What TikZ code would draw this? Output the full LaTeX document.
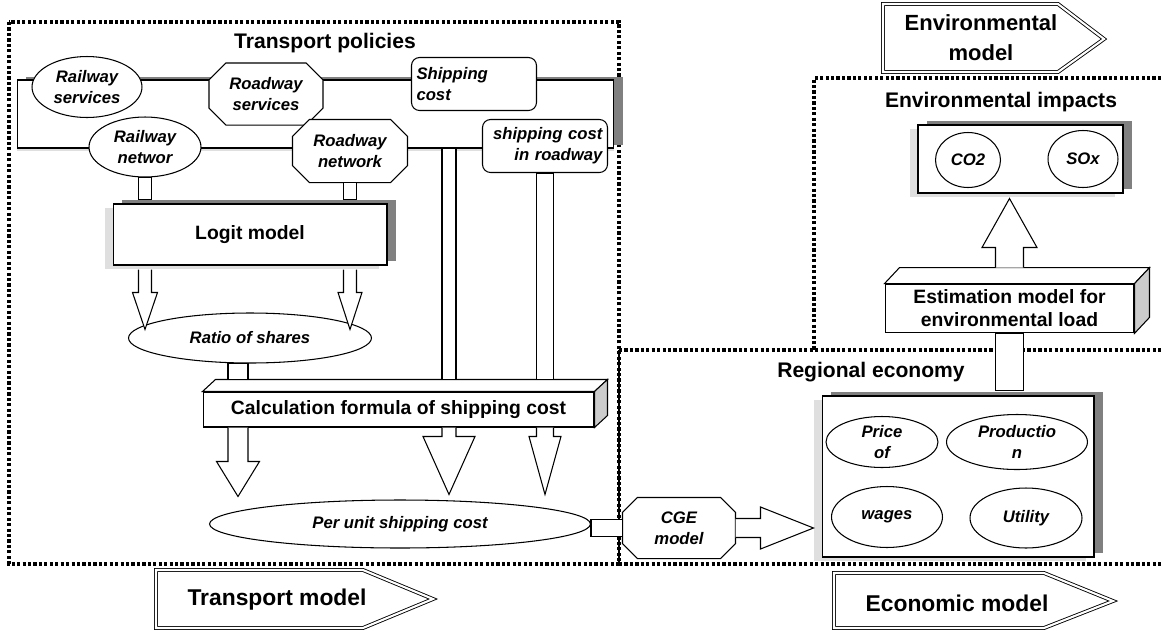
\documentclass[tikz,border=0pt]{standalone}
\usepackage{fontspec}
\setmainfont{Liberation Sans}
\usetikzlibrary{shapes.geometric,shadows,calc}

\tikzset{
  dotline/.style={line width=1.8pt, dash pattern=on 1.8pt off 1.3pt},
  lbl/.style={font=\fontsize{9.5}{12}\selectfont\bfseries\itshape, align=center, inner sep=0pt},
  oval/.style={lbl, ellipse, draw, fill=white},
  note/.style={lbl, rectangle, rounded corners=0.16cm, draw, fill=white, minimum height=1.06cm, inner xsep=0.1cm, text width=2.3cm},
  box/.style={rectangle, draw, fill=white, font=\fontsize{11}{13}\selectfont\bfseries, align=center},
  title/.style={font=\fontsize{12}{14}\selectfont\bfseries},
  shadowed/.style={general shadow={fill=gray!25, shadow xshift=-0.16cm, shadow yshift=-0.08cm},
                   general shadow={fill=gray, shadow xshift=0.18cm, shadow yshift=0.08cm}},
  polshadow/.style={general shadow={fill=gray!25, shadow xshift=0cm, shadow yshift=-0.06cm},
                    general shadow={fill=gray, shadow xshift=0.18cm, shadow yshift=0.06cm}},
  modelarrow/.style={double, double distance=1.2pt, line width=0.5pt},
  modeltext/.style={font=\fontsize{13}{17}\selectfont\bfseries, align=center}
}

% hollow block arrow: tail, tip, shaft half width, head half width, head length
\newcommand{\fatarrow}[5]{%
  \coordinate (fah) at ($(#2)!#5!(#1)$);
  \draw[fill=white] ($(#1)!#3!90:(#2)$) -- ($(fah)!#3!90:(#2)$) -- ($(fah)!#4!90:(#2)$) -- (#2)
    -- ($(fah)!#4!-90:(#2)$) -- ($(fah)!#3!-90:(#2)$) -- ($(#1)!#3!-90:(#2)$);}
% closed shaft without head
\newcommand{\fatshaft}[3]{%
  \draw[fill=white] ($(#1)!#3!90:(#2)$) -- ($(#2)!#3!-90:(#1)$) -- ($(#2)!#3!90:(#1)$) -- ($(#1)!#3!-90:(#2)$) -- cycle;}
% top and side faces of a box node
\newcommand{\boxdepth}[3]{%
  \draw[fill=white] (#1.north west) -- ++(#2,#3) -- ($(#1.north east)+(#2,#3)$) -- (#1.north east) -- cycle;
  \draw[fill=gray!40] (#1.north east) -- ++(#2,#3) -- ($(#1.south east)+(#2,#3)$) -- (#1.south east) -- cycle;}
% octagon: name, position, width, height, corner cut, text
\newcommand{\octnode}[6]{%
  \node[minimum width=#3, minimum height=#4, inner sep=0pt](#1) at #2 {};
  \draw[fill=white] ($(#1.north west)+(#5,0)$) -- ($(#1.north east)+(-#5,0)$) -- ($(#1.north east)+(0,#5)$)
    -- ($(#1.south east)+(0,-#5)$) -- ($(#1.south east)+(-#5,0)$) -- ($(#1.south west)+(#5,0)$)
    -- ($(#1.south west)+(0,-#5)$) -- ($(#1.north west)+(0,#5)$) -- cycle;
  \node[lbl] at (#1) {#6};}

\begin{document}
\begin{tikzpicture}[x=0.02cm, y=-0.02cm, line width=0.6pt]
  \useasboundingbox (0,0) rectangle (1161,630);

  % frames of the three models
  \draw[dotline] (9,22) rectangle (619,564);
  \draw[dotline] (1161,78) -- (814,78) -- (814,350);
  \draw[dotline] (619,350) -- (1161,350);
  \draw[dotline] (619,564) -- (1161,564);
  \draw[line width=1.7pt] (619,350) -- (619,564);

  \node[title](tpol) at (325,43) {Transport policies};
  \node[title](timp) at (1001,102) {Environmental impacts};
  \node[title](teco) at (871,372) {Regional economy};

  % transport policies
  \node[draw, fill=white, polshadow, minimum width=11.94cm, minimum height=1.36cm](pol) at (315.5,114) {};
  \node[oval, minimum width=2.2cm, minimum height=1.22cm](rsvc) at (87,87) {Railway\\services};
  \octnode{rdsvc}{(266,94)}{2.26cm}{1.22cm}{17}{Roadway\\services}
  \node[note, align=left](shipc) at (474,84) {Shipping\\cost};
  \node[oval, minimum width=2.24cm, minimum height=1.2cm](rnet) at (145,147) {Railway\\networ};
  \octnode{rdnet}{(350,151)}{2.28cm}{1.24cm}{17}{Roadway\\network}
  \node[note, align=right](shipr) at (545,146) {shipping cost\\in roadway};

  \node[box, shadowed, minimum width=5.48cm, minimum height=1.22cm](logit) at (250,234.5) {Logit model};
  \node[oval, minimum width=4.86cm, minimum height=1cm](ratio) at (250,338) {Ratio of shares};
  \node[box, minimum width=7.82cm, minimum height=0.7cm](calc) at (398.5,409.5) {Calculation formula of shipping cost};
  \boxdepth{calc}{13}{-12}
  \node[oval, minimum width=7.62cm, minimum height=0.96cm](unit) at (400,524) {Per unit shipping cost};

  % economy
  \octnode{cge}{(679,528)}{2.24cm}{1.2cm}{15}{CGE\\model}
  \node[box, shadowed, minimum width=5.44cm, minimum height=3.22cm](econ) at (958,476.5) {};
  \node[oval, minimum width=2.24cm, minimum height=1.02cm](price) at (882,442) {Price\\of};
  \node[oval, minimum width=2.82cm, minimum height=1.1cm](prod) at (1017,442) {Productio\\n};
  \node[oval, minimum width=2.22cm, minimum height=1.22cm](wages) at (887,517) {wages};
  \node[oval, minimum width=2.24cm, minimum height=1.2cm](util) at (1026,518) {Utility};

  % environment
  \node[box, minimum width=4.98cm, minimum height=0.94cm](est) at (1009.5,308.5) {Estimation model for\\environmental load};
  \boxdepth{est}{15}{-16}
  \node[box, shadowed, minimum width=4.1cm, minimum height=1.36cm](imp) at (1020.5,159) {};
  \node[oval, minimum width=1.3cm, minimum height=1.1cm](co2) at (968,160) {CO2};
  \node[oval, minimum width=1.4cm, minimum height=1.14cm](sox) at (1083,159) {SOx};

  % ends of the block arrows
  \coordinate (s1b) at ($(logit.north -| rnet.south)+(0,-4)$);
  \coordinate (s2b) at ($(logit.north -| rdnet.south)+(0,-4)$);
  \coordinate (a1a) at ($(logit.south -| rnet.south)+(0,4)$);
  \coordinate (a1b) at ($(ratio.north -| rnet.south)+(0,17)$);
  \coordinate (a2a) at ($(logit.south -| rdnet.south)+(0,4)$);
  \coordinate (a2b) at ($(ratio.north -| rdnet.south)+(0,17)$);
  \coordinate (s3a) at ($(ratio.south)+(-12,0)$);
  \coordinate (s3b) at ($(calc.north -| s3a)+(0,-12)$);
  \coordinate (s4a) at ($(pol.south)+(133.5,0)$);
  \coordinate (s4b) at ($(calc.north -| s4a)+(0,-12)$);
  \coordinate (s5b) at ($(calc.north -| shipr.south)+(0,-12)$);
  \coordinate (b1a) at (calc.south -| s3a);
  \coordinate (b1b) at ($(unit.north -| s3a)+(0,-3)$);
  \coordinate (b2a) at (calc.south -| s4a);
  \coordinate (b2b) at ($(unit.north -| s4a)+(0,-5)$);
  \coordinate (b3a) at (calc.south -| shipr.south);
  \coordinate (b3b) at ($(unit.north -| shipr.south)+(0,-5)$);
  \coordinate (c1a) at (cge.west -| unit.east);
  \coordinate (c2b) at ($(econ.west |- cge.east)+(-8,0)$);
  \coordinate (d1b) at ($(econ.north -| est.south)+(0,-5)$);
  \coordinate (e1a) at ($(est.north)+(0,-16)$);
  \coordinate (e1b) at ($(imp.south -| est.north)+(0,5)$);

  \fatshaft{rnet.south}{s1b}{0.13cm}
  \fatshaft{rdnet.south}{s2b}{0.13cm}
  \fatarrow{a1a}{a1b}{0.13cm}{0.25cm}{0.74cm}
  \fatarrow{a2a}{a2b}{0.13cm}{0.24cm}{0.74cm}
  \fatshaft{s3a}{s3b}{0.2cm}
  \fatshaft{s4a}{s4b}{0.14cm}
  \fatshaft{shipr.south}{s5b}{0.17cm}
  \fatarrow{b1a}{b1b}{0.2cm}{0.43cm}{0.7cm}
  \fatarrow{b2a}{b2b}{0.14cm}{0.52cm}{1.16cm}
  \fatarrow{b3a}{b3b}{0.17cm}{0.32cm}{1.16cm}
  \fatshaft{c1a}{cge.west}{0.17cm}
  \fatarrow{cge.east}{c2b}{0.19cm}{0.42cm}{1.06cm}
  \fatshaft{est.south}{d1b}{0.28cm}
  \fatarrow{e1a}{e1b}{0.28cm}{0.55cm}{0.98cm}

  % model labels
  \draw[modelarrow] (156,570) -- (363,570) -- (433,599) -- (363,628) -- (156,628) -- cycle;
  \node[modeltext](tmod) at (277,600) {Transport model};
  \draw[modelarrow] (883,4) -- (1058,4) -- (1104,39) -- (1058,72) -- (883,72) -- cycle;
  \node[modeltext, font=\fontsize{12.5}{17}\selectfont\bfseries](emod) at (981,38) {Environmental\\model};
  \draw[modelarrow] (834,573) -- (1044,573) -- (1113,601) -- (1044,628) -- (834,628) -- cycle;
  \node[modeltext](cmod) at (957,603) {Economic model};

\end{tikzpicture}
\end{document}
